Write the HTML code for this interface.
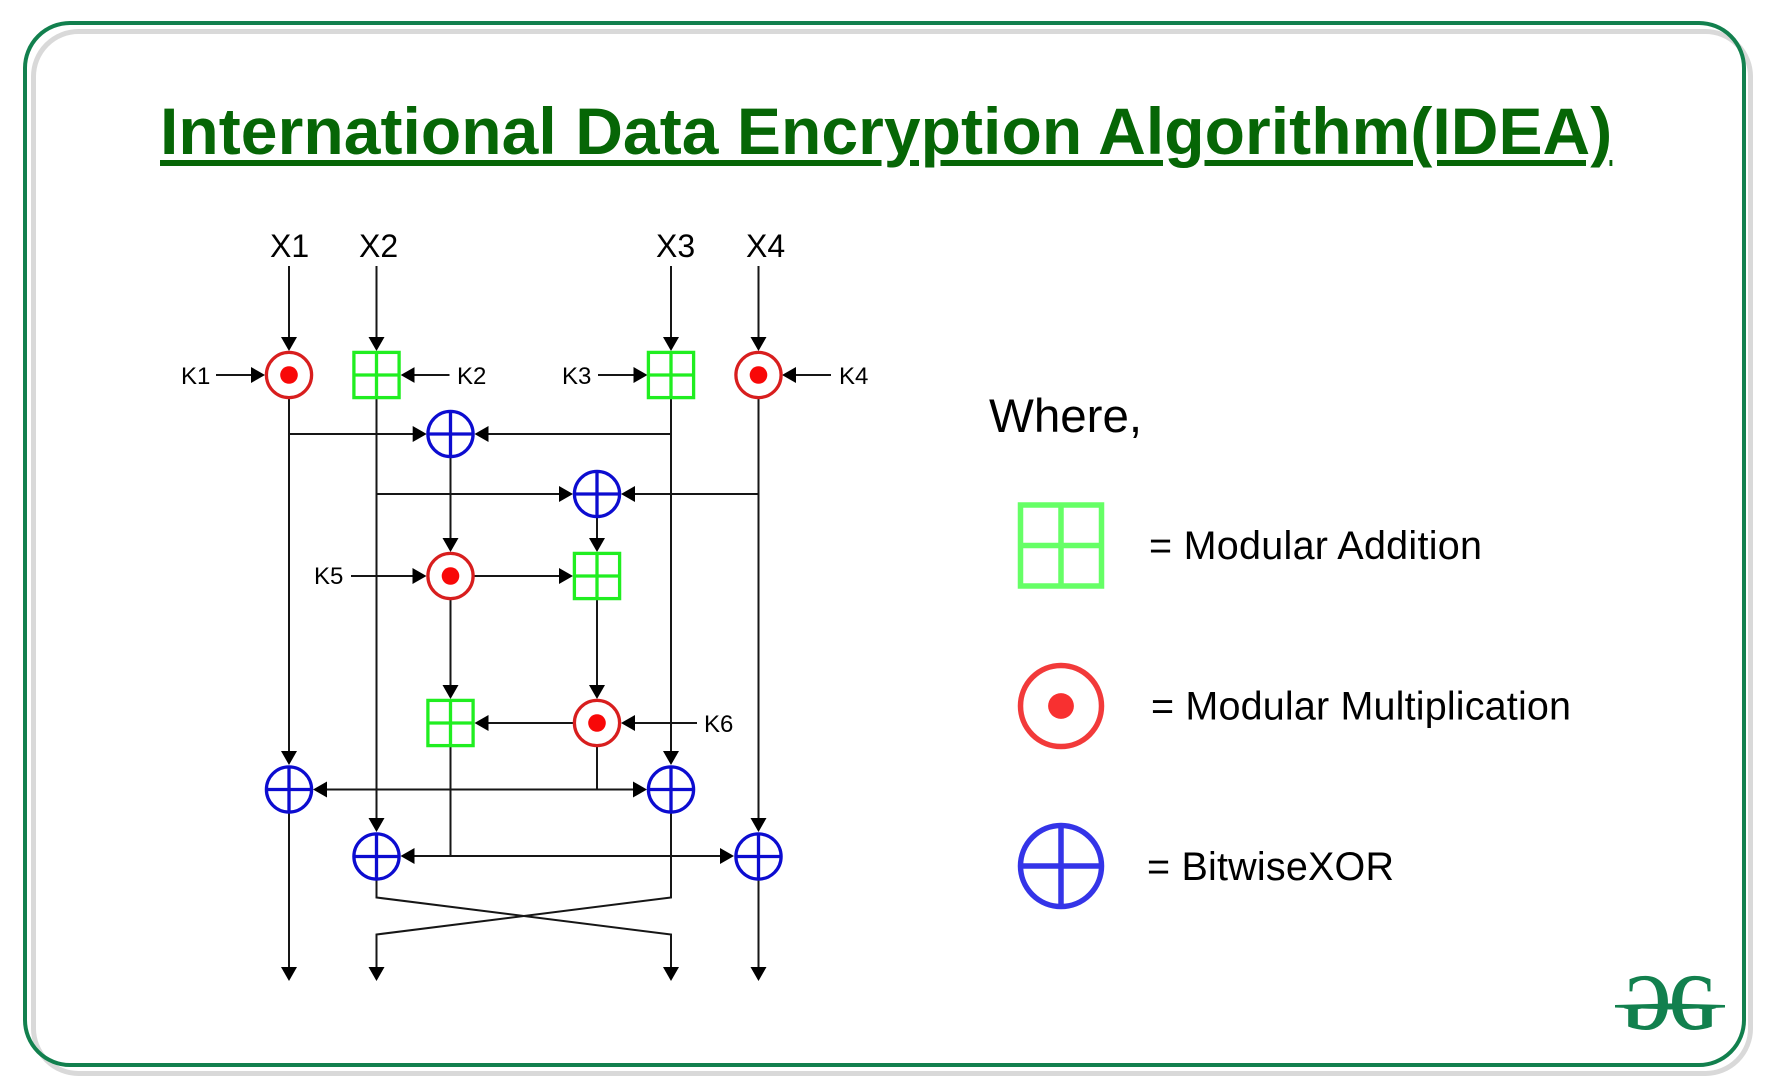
<!DOCTYPE html>
<html><head><meta charset="utf-8"><style>
html,body{margin:0;padding:0;background:#fff;width:1774px;height:1091px;overflow:hidden}
#t{position:absolute;left:160px;top:99px;font:bold 66px/64px "Liberation Sans",sans-serif;letter-spacing:.06px;color:#066606;white-space:nowrap;text-decoration:underline;text-decoration-thickness:5.5px;text-underline-offset:6px;text-decoration-skip-ink:auto}
svg{position:absolute;left:0;top:0}
text{font-family:"Liberation Sans",sans-serif;fill:#000}
.l{stroke:#161616;stroke-width:2;fill:none}
.a{marker-end:url(#ar)}
.k{font-size:24px}.x{font-size:32px}.g{font-size:39.5px}
</style></head><body>
<svg width="1774" height="1091" viewBox="0 0 1774 1091">
<defs>
<marker id="ar" markerUnits="userSpaceOnUse" viewBox="0 0 14 16" refX="10" refY="8" markerWidth="14" markerHeight="16" orient="auto"><path d="M0 0L14 8L0 16Z" fill="#000"/></marker>
<g id="add" fill="none" stroke="#20ee20" stroke-width="3.3"><rect x="-22.6" y="-22.6" width="45.2" height="45.2"/><path d="M0-22.6V22.6M-22.6 0H22.6"/></g>
<g id="mul"><circle r="22.6" fill="#fff" stroke="#d81e1e" stroke-width="3.3"/><circle r="8.8" fill="#f80808"/></g>
<g id="xor" fill="#fff" stroke="#0c0cd0" stroke-width="3.3"><circle r="22.6"/><path d="M0-22.6V22.6M-22.6 0H22.6"/></g>
</defs>
<rect x="33.5" y="31.5" width="1717" height="1042" rx="45" fill="none" stroke="#d9d9d9" stroke-width="5"/>
<rect x="25" y="23" width="1719" height="1042" rx="45" fill="none" stroke="#12804e" stroke-width="4"/>

<g>
<path class="l a" d="M289 266V347"/><path class="l a" d="M376.5 266V347"/><path class="l a" d="M671 266V347"/><path class="l a" d="M758.5 266V347"/>
<path class="l a" d="M216 375H261"/><path class="l a" d="M449.5 375H404.7"/><path class="l a" d="M598 375H643.5"/><path class="l a" d="M831 375H786"/>
<path class="l a" d="M289 434H422.7"/><path class="l a" d="M671 434H478.5"/>
<path class="l a" d="M376.5 494H569"/><path class="l a" d="M758.5 494H625"/>
<path class="l a" d="M450.5 458V548"/><path class="l a" d="M597 518V548"/>
<path class="l a" d="M351 576H422.5"/><path class="l a" d="M474 576H569"/>
<path class="l a" d="M450.5 600V695"/><path class="l a" d="M597 600V695"/>
<path class="l a" d="M573 723H478.5"/><path class="l a" d="M697 723H625"/>
<path class="l a" d="M597 747V789.5H317"/><path class="l a" d="M597 789.5H643"/>
<path class="l a" d="M450.5 747V856H404.5"/><path class="l a" d="M450.5 856H730"/>
<path class="l a" d="M289 399V761"/><path class="l a" d="M671 399V761"/>
<path class="l a" d="M376.5 399V828"/><path class="l a" d="M758.5 399V828"/>
<path class="l a" d="M289 813V977"/><path class="l a" d="M758.5 880V977"/>
<path class="l a" d="M376.5 880V897.5L671 934.5V977"/>
<path class="l a" d="M671 813V897.5L376.5 934.5V977"/>
</g>

<use href="#mul" x="289" y="375"/><use href="#add" x="376.5" y="375"/><use href="#add" x="671" y="375"/><use href="#mul" x="758.5" y="375"/>
<use href="#xor" x="450.5" y="434"/><use href="#xor" x="597" y="494"/>
<use href="#mul" x="450.5" y="576"/><use href="#add" x="597" y="576"/>
<use href="#add" x="450.5" y="723"/><use href="#mul" x="597" y="723"/>
<use href="#xor" x="289" y="789.5"/><use href="#xor" x="671" y="789.5"/>
<use href="#xor" x="376.5" y="856.5"/><use href="#xor" x="758.5" y="856.5"/>

<text class="x" x="270" y="257">X1</text><text class="x" x="359" y="257">X2</text><text class="x" x="656" y="257">X3</text><text class="x" x="746" y="257">X4</text>
<text class="k" x="181" y="384">K1</text><text class="k" x="457" y="384">K2</text><text class="k" x="562" y="384">K3</text><text class="k" x="839" y="384">K4</text>
<text class="k" x="314" y="584">K5</text><text class="k" x="704" y="732">K6</text>

<text x="989" y="432" font-size="47.5">Where,</text>
<rect x="1020.5" y="505" width="81" height="81" fill="none" stroke="#66ff66" stroke-width="5.5"/>
<path d="M1061 505V586M1020.5 545.5H1101.5" fill="none" stroke="#66ff66" stroke-width="5.5"/>
<circle cx="1061" cy="706" r="40.5" fill="none" stroke="#f23a3a" stroke-width="5.5"/><circle cx="1061" cy="706" r="12.9" fill="#f83030"/>
<circle cx="1061" cy="866" r="40.5" fill="none" stroke="#3434e8" stroke-width="5.5"/>
<path d="M1061 825.5V906.5M1020.5 866H1101.5" fill="none" stroke="#3434e8" stroke-width="5.5"/>
<text class="g" x="1149" y="559" textLength="333">= Modular Addition</text>
<text class="g" x="1151" y="719.5" textLength="420">= Modular Multiplication</text>
<text class="g" x="1147" y="880" textLength="247">= BitwiseXOR</text>

<g fill="#12804e">
<text style="fill:#12804e;font-family:'Liberation Serif',serif;font-weight:bold" font-size="82" transform="translate(1671,1029) scale(-.76,.98)">G</text>
<text style="fill:#12804e;font-family:'Liberation Serif',serif;font-weight:bold" font-size="82" transform="translate(1669,1029) scale(.76,.98)">G</text>
<path d="M1615 1005L1670 1003.5L1725 1005V1007.5L1670 1009.5L1615 1007.5Z"/>
</g>
</svg>
<div id="t">International Data Encryption Algorithm(IDEA)</div>
</body></html>
